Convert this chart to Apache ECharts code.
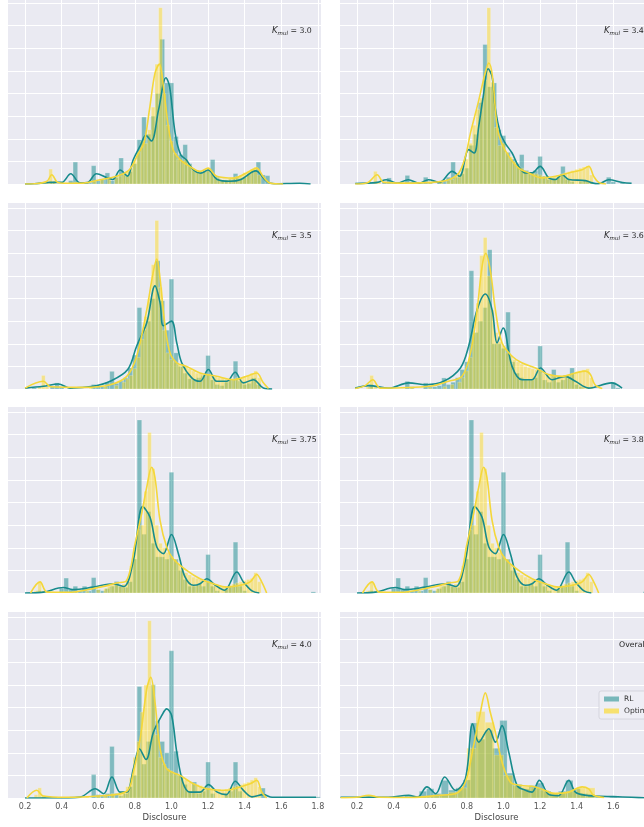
<!DOCTYPE html>
<html>
<head>
<meta charset="utf-8">
<title>Disclosure - RL vs Optimal</title>
<script src="https://cdn.jsdelivr.net/npm/echarts@6/dist/echarts.min.js"></script>
<style>
  html, body { margin: 0; padding: 0; background: #fff; }
  #chart { width: 644px; height: 827px; }
</style>
</head>
<body>
<div id="chart"></div>
<script>
// panel labels, the last one pools every K_mul
var kmul = ['3.0', '3.4', '3.5', '3.65', '3.75', '3.85', '4.0', 'Overall'];
var xTicks = [0.2, 0.4, 0.6, 0.8, 1.0, 1.2, 1.4, 1.6, 1.8];

// histogram bin widths, one per panel
var rlBin = [0.025, 0.025, 0.025, 0.025, 0.025, 0.025, 0.025, 0.04];
var optBin = [0.02, 0.02, 0.02, 0.02, 0.02, 0.02, 0.02, 0.05];

// histograms: [bin centre, density]
var rl30 = [[0.25,0.03],[0.35,0.1],[0.45,0.15],[0.475,0.97],[0.5,0.05],[0.55,0.05],[0.575,0.81],[0.6,0.15],[0.625,0.2],[0.65,0.49],[0.675,0.15],[0.7,0.3],[0.725,1.15],[0.75,0.4],[0.775,0.55],[0.8,0.9],[0.825,1.96],[0.85,2.96],[0.875,2.2],[0.9,3.0],[0.925,4.0],[0.95,6.4],[0.975,4.47],[1.0,4.47],[1.025,2.1],[1.05,1.3],[1.075,1.74],[1.1,0.9],[1.125,0.6],[1.15,0.5],[1.175,0.55],[1.2,0.6],[1.225,1.08],[1.25,0.3],[1.275,0.15],[1.3,0.15],[1.325,0.2],[1.35,0.46],[1.375,0.25],[1.4,0.3],[1.425,0.45],[1.45,0.6],[1.475,0.97],[1.5,0.4],[1.525,0.37],[1.55,0.05],[1.675,0.05]];
var opt30 = [[0.28,0.05],[0.32,0.1],[0.34,0.66],[0.36,0.15],[0.42,0.05],[0.48,0.08],[0.54,0.05],[0.58,0.12],[0.62,0.2],[0.66,0.25],[0.7,0.3],[0.72,0.35],[0.74,0.45],[0.76,0.55],[0.78,0.7],[0.8,1.0],[0.82,1.4],[0.84,1.9],[0.86,1.8],[0.88,2.4],[0.9,3.4],[0.92,5.3],[0.94,7.8],[0.96,4.0],[0.98,2.6],[1.0,1.9],[1.02,1.35],[1.04,1.1],[1.06,1.0],[1.08,1.1],[1.1,0.85],[1.12,0.7],[1.14,0.6],[1.16,0.5],[1.18,0.55],[1.2,0.7],[1.22,0.5],[1.24,0.35],[1.26,0.25],[1.28,0.2],[1.3,0.2],[1.32,0.25],[1.34,0.3],[1.36,0.35],[1.38,0.4],[1.4,0.5],[1.42,0.55],[1.44,0.65],[1.46,0.75],[1.48,0.4]];

var rl34 = [[0.225,0.05],[0.3,0.05],[0.35,0.1],[0.375,0.27],[0.4,0.05],[0.475,0.38],[0.5,0.1],[0.55,0.05],[0.575,0.3],[0.6,0.1],[0.65,0.1],[0.675,0.15],[0.7,0.3],[0.725,0.97],[0.75,0.3],[0.775,0.45],[0.8,0.7],[0.825,1.71],[0.85,2.2],[0.875,3.6],[0.9,6.17],[0.925,4.3],[0.95,4.47],[0.975,2.4],[1.0,2.14],[1.025,1.4],[1.05,1.1],[1.075,0.9],[1.1,1.3],[1.125,0.6],[1.15,0.45],[1.175,0.6],[1.2,1.22],[1.225,0.35],[1.25,0.2],[1.275,0.2],[1.3,0.3],[1.325,0.78],[1.35,0.2],[1.375,0.1],[1.425,0.1],[1.45,0.15],[1.475,0.1],[1.575,0.3],[1.6,0.1],[1.65,0.05]];
var opt34 = [[0.26,0.05],[0.3,0.56],[0.32,0.1],[0.44,0.05],[0.52,0.05],[0.6,0.08],[0.66,0.1],[0.7,0.15],[0.72,0.2],[0.74,0.35],[0.76,0.45],[0.78,0.8],[0.8,1.1],[0.82,1.8],[0.84,2.6],[0.86,3.3],[0.88,3.8],[0.9,4.6],[0.92,7.8],[0.94,4.5],[0.96,2.5],[0.98,1.7],[1.0,1.8],[1.02,1.4],[1.04,1.2],[1.06,1.0],[1.08,0.8],[1.1,0.7],[1.12,0.55],[1.14,0.5],[1.16,0.5],[1.18,0.45],[1.2,0.4],[1.22,0.35],[1.24,0.35],[1.26,0.3],[1.28,0.35],[1.3,0.4],[1.32,0.45],[1.34,0.5],[1.36,0.55],[1.38,0.6],[1.4,0.65],[1.42,0.7],[1.44,0.75],[1.46,0.8],[1.48,0.4]];

var rl35 = [[0.25,0.05],[0.35,0.1],[0.375,0.27],[0.4,0.1],[0.45,0.05],[0.575,0.2],[0.6,0.1],[0.625,0.1],[0.65,0.3],[0.675,0.78],[0.7,0.25],[0.725,0.35],[0.75,0.5],[0.775,0.93],[0.8,1.5],[0.825,3.6],[0.85,2.6],[0.875,3.0],[0.9,4.0],[0.925,5.67],[0.95,3.9],[0.975,2.6],[1.0,4.86],[1.025,1.6],[1.05,1.0],[1.075,0.7],[1.1,0.45],[1.125,0.4],[1.15,0.5],[1.175,0.6],[1.2,1.48],[1.225,0.4],[1.25,0.2],[1.275,0.15],[1.3,0.3],[1.325,0.45],[1.35,1.23],[1.375,0.35],[1.4,0.2],[1.425,0.25],[1.45,0.49],[1.475,0.2]];
var opt35 = [[0.28,0.1],[0.3,0.6],[0.32,0.1],[0.56,0.05],[0.64,0.1],[0.7,0.15],[0.74,0.3],[0.76,0.45],[0.78,0.6],[0.8,0.9],[0.82,1.4],[0.84,2.2],[0.86,3.2],[0.88,4.0],[0.9,5.5],[0.92,7.45],[0.94,4.5],[0.96,2.6],[0.98,1.6],[1.0,1.3],[1.02,1.2],[1.04,1.1],[1.06,1.0],[1.08,1.0],[1.1,0.9],[1.12,0.8],[1.14,0.7],[1.16,0.7],[1.18,0.65],[1.2,0.65],[1.22,0.6],[1.24,0.55],[1.26,0.5],[1.28,0.5],[1.3,0.45],[1.32,0.45],[1.34,0.45],[1.36,0.5],[1.38,0.5],[1.4,0.55],[1.42,0.6],[1.44,0.7],[1.46,0.8],[1.48,0.5]];

var rl365 = [[0.275,0.2],[0.35,0.05],[0.475,0.34],[0.5,0.1],[0.575,0.27],[0.6,0.1],[0.625,0.1],[0.65,0.15],[0.675,0.49],[0.7,0.2],[0.725,0.3],[0.75,0.5],[0.775,0.86],[0.8,1.2],[0.825,5.23],[0.85,2.5],[0.875,3.0],[0.9,3.6],[0.925,6.16],[0.95,2.0],[0.975,2.0],[1.0,1.8],[1.025,3.4],[1.05,1.2],[1.075,0.7],[1.1,0.5],[1.125,0.4],[1.15,0.4],[1.175,0.5],[1.2,1.9],[1.225,0.4],[1.25,0.3],[1.275,0.86],[1.3,0.3],[1.325,0.4],[1.35,0.5],[1.375,0.93],[1.4,0.2],[1.425,0.1],[1.6,0.3],[1.625,0.05]];
var opt365 = [[0.26,0.1],[0.28,0.6],[0.3,0.1],[0.5,0.05],[0.6,0.05],[0.68,0.1],[0.72,0.2],[0.76,0.3],[0.78,0.5],[0.8,0.8],[0.82,1.4],[0.84,2.5],[0.86,3.8],[0.88,5.9],[0.9,6.7],[0.92,5.0],[0.94,3.5],[0.96,2.5],[0.98,2.1],[1.0,1.9],[1.02,1.6],[1.04,1.5],[1.06,1.3],[1.08,1.2],[1.1,1.1],[1.12,1.0],[1.14,0.95],[1.16,0.9],[1.18,0.85],[1.2,0.8],[1.22,0.7],[1.24,0.65],[1.26,0.6],[1.28,0.55],[1.3,0.55],[1.32,0.55],[1.34,0.6],[1.36,0.65],[1.38,0.7],[1.4,0.75],[1.42,0.8],[1.44,0.85],[1.46,0.9],[1.48,0.5]];

var rl375 = [[0.275,0.1],[0.4,0.2],[0.425,0.66],[0.45,0.15],[0.475,0.3],[0.5,0.1],[0.525,0.3],[0.55,0.1],[0.575,0.68],[0.6,0.15],[0.625,0.1],[0.65,0.2],[0.675,0.3],[0.7,0.51],[0.725,0.3],[0.75,0.25],[0.775,0.5],[0.8,1.5],[0.825,7.65],[0.85,2.6],[0.875,3.6],[0.9,2.2],[0.925,1.6],[0.95,1.6],[0.975,1.5],[1.0,5.34],[1.025,1.5],[1.05,1.0],[1.075,0.6],[1.1,0.3],[1.125,0.3],[1.15,0.4],[1.175,0.3],[1.2,1.7],[1.225,0.3],[1.25,0.1],[1.3,0.2],[1.325,0.3],[1.35,2.25],[1.375,0.3],[1.4,0.1],[1.775,0.05]];
var opt375 = [[0.26,0.1],[0.28,0.5],[0.3,0.1],[0.42,0.05],[0.48,0.05],[0.54,0.08],[0.6,0.15],[0.64,0.2],[0.66,0.3],[0.68,0.35],[0.7,0.4],[0.72,0.3],[0.74,0.4],[0.76,0.6],[0.78,1.2],[0.8,2.0],[0.82,2.8],[0.84,3.0],[0.86,4.5],[0.88,7.1],[0.9,5.5],[0.92,3.0],[0.94,2.2],[0.96,2.0],[0.98,1.8],[1.0,1.6],[1.02,1.5],[1.04,1.3],[1.06,1.1],[1.08,0.9],[1.1,0.8],[1.12,0.7],[1.14,0.65],[1.16,0.6],[1.18,0.55],[1.2,0.5],[1.22,0.45],[1.24,0.4],[1.26,0.35],[1.28,0.3],[1.3,0.3],[1.32,0.35],[1.34,0.4],[1.36,0.45],[1.38,0.5],[1.4,0.55],[1.42,0.6],[1.44,0.65],[1.46,0.9],[1.48,0.5]];

var rl385 = [[0.275,0.1],[0.4,0.2],[0.425,0.66],[0.45,0.15],[0.475,0.3],[0.5,0.1],[0.525,0.3],[0.55,0.1],[0.575,0.68],[0.6,0.15],[0.625,0.1],[0.65,0.2],[0.675,0.3],[0.7,0.51],[0.725,0.3],[0.75,0.25],[0.775,0.5],[0.8,1.5],[0.825,7.65],[0.85,2.6],[0.875,3.6],[0.9,2.2],[0.925,1.6],[0.95,1.6],[0.975,1.5],[1.0,5.34],[1.025,1.5],[1.05,1.0],[1.075,0.6],[1.1,0.3],[1.125,0.3],[1.15,0.4],[1.175,0.3],[1.2,1.7],[1.225,0.3],[1.25,0.1],[1.3,0.2],[1.325,0.3],[1.35,2.25],[1.375,0.3],[1.4,0.1],[1.775,0.05]];
var opt385 = [[0.26,0.1],[0.28,0.5],[0.3,0.1],[0.42,0.05],[0.48,0.05],[0.54,0.08],[0.6,0.15],[0.64,0.2],[0.66,0.3],[0.68,0.35],[0.7,0.4],[0.72,0.3],[0.74,0.4],[0.76,0.6],[0.78,1.2],[0.8,2.0],[0.82,2.8],[0.84,3.0],[0.86,4.5],[0.88,7.1],[0.9,5.5],[0.92,3.0],[0.94,2.2],[0.96,2.0],[0.98,1.8],[1.0,1.6],[1.02,1.5],[1.04,1.3],[1.06,1.1],[1.08,0.9],[1.1,0.8],[1.12,0.7],[1.14,0.65],[1.16,0.6],[1.18,0.55],[1.2,0.5],[1.22,0.45],[1.24,0.4],[1.26,0.35],[1.28,0.3],[1.3,0.3],[1.32,0.35],[1.34,0.4],[1.36,0.45],[1.38,0.5],[1.4,0.55],[1.42,0.6],[1.44,0.65],[1.46,0.9],[1.48,0.5]];

var rl40 = [[0.3,0.05],[0.575,1.04],[0.6,0.15],[0.625,0.1],[0.65,0.2],[0.675,2.28],[0.7,0.2],[0.725,0.1],[0.75,0.2],[0.775,0.5],[0.8,1.0],[0.825,4.93],[0.85,1.5],[0.875,2.5],[0.9,5.01],[0.925,3.4],[0.95,2.5],[0.975,2.0],[1.0,6.51],[1.025,2.07],[1.05,1.0],[1.075,0.6],[1.1,0.3],[1.125,0.71],[1.15,0.2],[1.175,0.3],[1.2,1.59],[1.225,0.2],[1.3,0.2],[1.325,0.3],[1.35,1.59],[1.375,0.3],[1.5,0.44],[1.8,0.05]];
var opt40 = [[0.26,0.15],[0.28,0.45],[0.3,0.1],[0.44,0.05],[0.54,0.05],[0.6,0.1],[0.64,0.15],[0.68,0.2],[0.72,0.25],[0.74,0.3],[0.76,0.5],[0.78,0.9],[0.8,1.8],[0.82,2.5],[0.84,3.8],[0.86,5.0],[0.88,7.84],[0.9,5.0],[0.92,2.8],[0.94,1.8],[0.96,1.5],[0.98,1.3],[1.0,1.2],[1.02,1.1],[1.04,1.0],[1.06,0.9],[1.08,0.8],[1.1,0.7],[1.12,0.65],[1.14,0.6],[1.16,0.55],[1.18,0.5],[1.2,0.45],[1.22,0.45],[1.24,0.4],[1.26,0.4],[1.28,0.35],[1.3,0.4],[1.32,0.45],[1.34,0.5],[1.36,0.55],[1.38,0.6],[1.4,0.65],[1.42,0.7],[1.44,0.8],[1.46,0.9],[1.48,0.5]];

var rlAll = [[0.24,0.03],[0.28,0.05],[0.44,0.05],[0.48,0.12],[0.52,0.08],[0.56,0.3],[0.6,0.41],[0.64,0.2],[0.68,0.78],[0.72,0.35],[0.76,0.45],[0.8,0.8],[0.84,3.32],[0.88,2.6],[0.92,3.0],[0.96,2.2],[1.0,3.43],[1.04,1.1],[1.08,0.6],[1.12,0.4],[1.16,0.55],[1.2,0.66],[1.24,0.3],[1.28,0.2],[1.32,0.3],[1.36,0.78],[1.4,0.4],[1.44,0.2],[1.48,0.15],[1.52,0.05],[1.6,0.03]];
var optAll = [[0.275,0.12],[0.325,0.05],[0.475,0.04],[0.575,0.06],[0.625,0.1],[0.675,0.15],[0.725,0.25],[0.775,0.45],[0.825,2.2],[0.875,3.82],[0.925,3.35],[0.975,1.9],[1.025,1.0],[1.075,0.55],[1.125,0.5],[1.175,0.45],[1.225,0.35],[1.275,0.25],[1.325,0.25],[1.375,0.3],[1.425,0.45],[1.475,0.45]];

// kde curves: [disclosure, density]
var rlKde30 = [[0.2,0],[0.25,0.01],[0.34,0.07],[0.4,0.07],[0.45,0.45],[0.5,0.05],[0.54,0.06],[0.59,0.45],[0.65,0.27],[0.68,0.2],[0.72,0.62],[0.76,0.35],[0.79,1.05],[0.83,1.7],[0.86,2.15],[0.89,1.9],[0.93,3.3],[0.97,4.7],[0.99,4.3],[1.02,2.25],[1.05,1.3],[1.08,1.08],[1.12,0.62],[1.16,0.48],[1.2,0.62],[1.25,0.2],[1.32,0.12],[1.38,0.2],[1.46,0.58],[1.52,0.12],[1.56,0.01],[1.7,0.03],[1.76,0]];
var optKde30 = [[0.2,0],[0.255,0.01],[0.32,0.12],[0.346,0.41],[0.38,0.07],[0.45,0.03],[0.52,0.04],[0.61,0.19],[0.7,0.34],[0.77,0.63],[0.82,1.37],[0.85,1.8],[0.88,3.3],[0.91,4.9],[0.934,5.3],[0.956,4.3],[0.983,2.55],[1.01,1.5],[1.047,1.08],[1.1,0.78],[1.156,0.56],[1.2,0.7],[1.247,0.34],[1.34,0.26],[1.41,0.49],[1.466,0.7],[1.5,0.34],[1.54,0.04],[1.61,0]];

var rlKde34 = [[0.19,0.02],[0.31,0.07],[0.36,0.19],[0.42,0.04],[0.48,0.19],[0.54,0.04],[0.59,0.19],[0.65,0.07],[0.72,0.56],[0.76,0.34],[0.81,1.52],[0.84,1.37],[0.865,2.55],[0.89,3.9],[0.916,5.1],[0.938,4.75],[0.956,3.3],[0.983,2.26],[1.01,1.8],[1.047,1.37],[1.083,0.78],[1.12,0.49],[1.156,0.49],[1.2,0.78],[1.247,0.27],[1.284,0.2],[1.32,0.41],[1.357,0.2],[1.448,0.15],[1.484,0.05],[1.52,0.01],[1.575,0.19],[1.65,0.07],[1.7,0.03]];
var optKde34 = [[0.19,0],[0.26,0.07],[0.31,0.41],[0.346,0.07],[0.46,0.04],[0.61,0.07],[0.7,0.19],[0.756,0.49],[0.792,1.22],[0.82,2.26],[0.865,3.7],[0.9,4.9],[0.92,5.35],[0.94,4.76],[0.965,2.55],[0.99,1.8],[1.03,1.22],[1.083,0.7],[1.138,0.49],[1.21,0.27],[1.284,0.34],[1.357,0.49],[1.43,0.63],[1.466,0.78],[1.493,0.34],[1.52,0.07],[1.56,0]];

var rlKde35 = [[0.2,0.04],[0.3,0.12],[0.382,0.22],[0.446,0.04],[0.573,0.12],[0.665,0.34],[0.761,0.86],[0.81,1.9],[0.865,2.93],[0.91,4.56],[0.938,3.8],[0.956,2.8],[1.0,3.0],[1.029,2.04],[1.056,1.16],[1.111,0.49],[1.156,0.34],[1.202,0.86],[1.247,0.34],[1.302,0.34],[1.348,0.74],[1.393,0.27],[1.448,0.41],[1.502,0.04],[1.55,0]];
var optKde35 = [[0.2,0.04],[0.3,0.34],[0.34,0.1],[0.52,0.07],[0.665,0.19],[0.756,0.56],[0.81,1.45],[0.865,3.5],[0.9,5.15],[0.92,5.75],[0.938,4.86],[0.965,2.8],[0.992,1.6],[1.029,1.16],[1.083,1.0],[1.156,0.71],[1.247,0.56],[1.338,0.41],[1.41,0.56],[1.466,0.71],[1.5,0.3],[1.53,0.02]];

var rlKde365 = [[0.19,0.04],[0.264,0.15],[0.373,0.04],[0.482,0.27],[0.577,0.19],[0.674,0.34],[0.765,0.93],[0.81,1.9],[0.856,3.5],[0.901,4.2],[0.938,3.5],[0.965,2.04],[0.998,2.7],[1.047,1.0],[1.102,0.41],[1.156,0.41],[1.202,0.93],[1.266,0.41],[1.338,0.56],[1.393,0.34],[1.466,0.04],[1.59,0.27],[1.648,0.04]];
var optKde365 = [[0.19,0.02],[0.245,0.15],[0.286,0.41],[0.328,0.04],[0.6,0.12],[0.7,0.34],[0.774,0.56],[0.82,1.6],[0.856,3.5],[0.883,5.4],[0.903,6.0],[0.929,5.2],[0.956,3.5],[0.992,2.04],[1.047,1.45],[1.1,1.16],[1.175,0.93],[1.247,0.64],[1.32,0.56],[1.393,0.71],[1.448,0.79],[1.475,0.64],[1.5,0.19],[1.54,0.02]];

var rlKde375 = [[0.2,0],[0.3,0.04],[0.41,0.24],[0.46,0.15],[0.573,0.26],[0.683,0.41],[0.74,0.29],[0.792,1.44],[0.843,3.82],[0.883,3.35],[0.92,2.03],[0.956,1.74],[1.0,2.59],[1.038,1.74],[1.074,0.71],[1.12,0.34],[1.156,0.41],[1.193,0.63],[1.24,0.34],[1.29,0.12],[1.357,0.93],[1.393,0.49],[1.44,0.09],[1.48,0]];
var optKde375 = [[0.23,0],[0.282,0.49],[0.32,0.04],[0.43,0.03],[0.61,0.26],[0.7,0.44],[0.756,0.56],[0.801,2.18],[0.837,3.5],[0.865,4.68],[0.892,5.56],[0.91,5.1],[0.938,3.2],[0.974,2.03],[1.01,1.5],[1.083,1.0],[1.156,0.63],[1.229,0.41],[1.302,0.26],[1.375,0.34],[1.43,0.49],[1.466,0.82],[1.493,0.49],[1.52,0]];

var rlKde385 = [[0.2,0],[0.3,0.04],[0.41,0.24],[0.46,0.15],[0.573,0.26],[0.683,0.41],[0.74,0.29],[0.792,1.44],[0.843,3.82],[0.883,3.35],[0.92,2.03],[0.956,1.74],[1.0,2.59],[1.038,1.74],[1.074,0.71],[1.12,0.34],[1.156,0.41],[1.193,0.63],[1.24,0.34],[1.29,0.12],[1.357,0.93],[1.393,0.49],[1.44,0.09],[1.48,0]];
var optKde385 = [[0.23,0],[0.282,0.49],[0.32,0.04],[0.43,0.03],[0.61,0.26],[0.7,0.44],[0.756,0.56],[0.801,2.18],[0.837,3.5],[0.865,4.68],[0.892,5.56],[0.91,5.1],[0.938,3.2],[0.974,2.03],[1.01,1.5],[1.083,1.0],[1.156,0.63],[1.229,0.41],[1.302,0.26],[1.375,0.34],[1.43,0.49],[1.466,0.82],[1.493,0.49],[1.52,0]];

var rlKde40 = [[0.2,0],[0.35,0.0],[0.5,0.04],[0.584,0.41],[0.63,0.19],[0.675,0.93],[0.72,0.26],[0.756,0.26],[0.792,1.29],[0.825,2.18],[0.861,1.7],[0.901,2.9],[0.947,3.65],[0.974,3.94],[1.001,3.65],[1.029,2.03],[1.062,0.7],[1.1,0.26],[1.156,0.26],[1.202,0.59],[1.25,0.26],[1.3,0.15],[1.348,0.74],[1.393,0.34],[1.44,0.05],[1.502,0.15],[1.55,0.03],[1.79,0.03]];
var optKde40 = [[0.21,0],[0.264,0.34],[0.3,0.09],[0.42,0.03],[0.6,0.09],[0.756,0.3],[0.792,1.15],[0.829,2.62],[0.865,4.82],[0.887,5.34],[0.91,4.24],[0.938,2.18],[0.974,1.29],[1.047,1.0],[1.12,0.63],[1.193,0.41],[1.302,0.34],[1.375,0.49],[1.43,0.63],[1.466,0.78],[1.493,0.26],[1.52,0]];

var rlKdeAll = [[0.11,0.03],[0.37,0.03],[0.482,0.12],[0.53,0.04],[0.582,0.49],[0.63,0.19],[0.679,0.93],[0.737,0.34],[0.792,0.85],[0.832,3.28],[0.865,2.47],[0.92,3.06],[0.956,2.47],[0.992,3.2],[1.029,2.03],[1.074,0.56],[1.12,0.34],[1.156,0.26],[1.196,0.78],[1.247,0.16],[1.3,0.1],[1.357,0.78],[1.393,0.26],[1.45,0.12],[1.5,0.09],[1.6,0.06],[1.7,0.03],[1.8,0.0]];
var optKdeAll = [[0.11,0.01],[0.2,0.03],[0.264,0.12],[0.32,0.03],[0.5,0.02],[0.65,0.12],[0.74,0.2],[0.792,0.7],[0.837,2.32],[0.874,3.79],[0.901,4.65],[0.928,3.79],[0.956,2.9],[0.992,1.59],[1.038,0.7],[1.093,0.56],[1.175,0.49],[1.284,0.2],[1.357,0.26],[1.43,0.49],[1.466,0.4],[1.493,0.12],[1.55,0.02]];

var rlBars = [rl30, rl34, rl35, rl365, rl375, rl385, rl40, rlAll];
var optBars = [opt30, opt34, opt35, opt365, opt375, opt385, opt40, optAll];
var rlKdes = [rlKde30, rlKde34, rlKde35, rlKde365, rlKde375, rlKde385, rlKde40, rlKdeAll];
var optKdes = [optKde30, optKde34, optKde35, optKde365, optKde375, optKde385, optKde40, optKdeAll];

// layout: right column runs past the window edge, as in the cropped figure
var colLeft = [8, 340];
var rowBottom = [184, 389, 593, 798];
var plotW = 313, plotH = 187;
var labelY = [31, 236, 440, 645];

var myChart = echarts.init(document.getElementById('chart'));

function histItem(width) {
    return function (params, api) {
        var x = api.value(0), h = api.value(1);
        var p0 = api.coord([x - width / 2, h]);
        var p1 = api.coord([x + width / 2, 0]);
        return {
            type: 'rect',
            shape: { x: p0[0], y: p0[1], width: p1[0] - p0[0], height: p1[1] - p0[1] },
            style: api.style({ stroke: 'rgba(255,255,255,0.4)', lineWidth: 0.5 })
        };
    };
}

var grids = [], xAxes = [], yAxes = [], series = [], graphics = [];
for (var i = 0; i < 8; i++) {
    var col = i % 2, row = Math.floor(i / 2);
    var bottomRow = row === 3;
    grids.push({
        left: colLeft[col], top: rowBottom[row] - plotH, width: plotW, height: plotH,
        outerBoundsMode: 'none', containLabel: false,
        show: true, backgroundColor: '#eaeaf2', borderWidth: 0
    });
    xAxes.push({
        gridIndex: i, type: 'value', min: 0.107, max: 1.817,
        axisLine: { show: false },
        axisTick: { show: false, customValues: xTicks },
        splitLine: { show: true, lineStyle: { color: '#ffffff', width: 1 } },
        axisLabel: {
            show: bottomRow, customValues: xTicks, margin: 5,
            fontSize: 8, color: '#555', fontFamily: 'DejaVu Sans',
            formatter: function (v) { return v.toFixed(1); }
        },
        name: bottomRow ? 'Disclosure' : '',
        nameLocation: 'middle', nameGap: 15,
        nameTextStyle: { fontSize: 8.5, color: '#444', fontFamily: 'DejaVu Sans' }
    });
    yAxes.push({
        gridIndex: i, type: 'value', min: 0, max: 8.27, interval: 1,
        axisLabel: { show: false }, axisLine: { show: false }, axisTick: { show: false },
        splitLine: { lineStyle: { color: '#ffffff', width: 1 } }
    });
    series.push({
        name: 'RL', type: 'custom', xAxisIndex: i, yAxisIndex: i,
        renderItem: histItem(rlBin[i]), data: rlBars[i], clip: true, z: 2,
        itemStyle: { color: 'rgba(0,128,128,0.45)' }
    });
    series.push({
        name: 'Optimal', type: 'custom', xAxisIndex: i, yAxisIndex: i,
        renderItem: histItem(optBin[i]), data: optBars[i], clip: true, z: 3,
        itemStyle: { color: 'rgba(255,215,0,0.42)' }
    });
    series.push({
        name: 'RL', type: 'line', xAxisIndex: i, yAxisIndex: i, data: rlKdes[i],
        smooth: 0.35, showSymbol: false, z: 4,
        lineStyle: { color: '#178b8c', width: 1.6 }, itemStyle: { color: '#178b8c' }
    });
    series.push({
        name: 'Optimal', type: 'line', xAxisIndex: i, yAxisIndex: i, data: optKdes[i],
        smooth: 0.35, showSymbol: false, z: 5,
        lineStyle: { color: '#f4d73a', width: 1.6 }, itemStyle: { color: '#f4d73a' }
    });

    var txt = kmul[i] === 'Overall' ? '{t|Overall}' : '{k|K}{s|mul}{t| = ' + kmul[i] + '}';
    graphics.push({
        type: 'text', x: kmul[i] === 'Overall' ? 619 : (col ? 604 : 272), y: labelY[row], z: 10,
        style: {
            text: txt, fill: '#262626', verticalAlign: 'middle',
            fontFamily: 'DejaVu Sans',
            rich: {
                k: { fontSize: 8.5, fontStyle: 'italic', fontFamily: 'DejaVu Sans', lineHeight: 11, verticalAlign: 'middle' },
                s: { fontSize: 5.5, fontStyle: 'italic', fontFamily: 'DejaVu Sans', lineHeight: 7, verticalAlign: 'bottom' },
                t: { fontSize: 7.8, fontFamily: 'DejaVu Sans', lineHeight: 11, verticalAlign: 'middle' }
            }
        }
    });
}

var option = {
    animation: false,
    backgroundColor: '#ffffff',
    grid: grids,
    xAxis: xAxes,
    yAxis: yAxes,
    series: series,
    graphic: graphics,
    legend: {
        data: [
            { name: 'RL', icon: 'rect', itemStyle: { color: 'rgba(0,128,128,0.5)' } },
            { name: 'Optimal', icon: 'rect', itemStyle: { color: 'rgba(255,215,0,0.55)' } }
        ],
        orient: 'vertical', left: 599, top: 691,
        itemWidth: 15, itemHeight: 5, itemGap: 4,
        padding: [4, 6, 4, 5], selectedMode: false,
        backgroundColor: 'rgba(238,238,245,0.92)', borderColor: '#cfcfd8', borderWidth: 0.8, borderRadius: 2,
        textStyle: { fontSize: 7.5, color: '#333', fontFamily: 'DejaVu Sans' }
    }
};
// 使用刚指定的配置项和数据显示图表。
myChart.setOption(option);
</script>
</body>
</html>
